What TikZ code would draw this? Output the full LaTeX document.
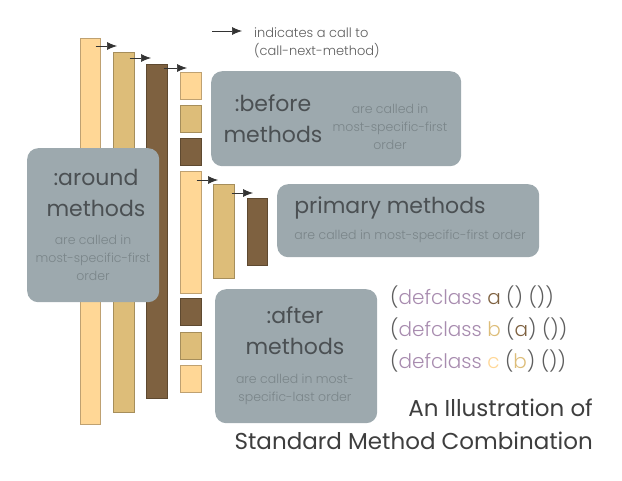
\documentclass[tikz,border=0pt]{standalone}
\usepackage{fontspec}
\setmainfont{Poppins Light}
\newfontfamily\headfont{Poppins}
\usetikzlibrary{arrows.meta}
\definecolor{clite}{HTML}{FFD796}
\definecolor{cmid}{HTML}{DDBD79}
\definecolor{cdark}{HTML}{7E6140}
\definecolor{boxgrey}{HTML}{9DA9AE}
\definecolor{headgrey}{HTML}{4B5053}
\definecolor{notegrey}{HTML}{7A8589}
\definecolor{lisppurple}{HTML}{A88CAF}
\definecolor{parengrey}{HTML}{5E5E5E}
\definecolor{titlegrey}{HTML}{3E3E3E}
\newcommand{\kw}[1]{\textcolor{lisppurple}{#1}}
\newcommand{\cls}[2]{\textcolor{#1}{#2}}

\begin{document}
\begin{tikzpicture}[x=1pt,y=-1pt,
every node/.style={inner sep=0pt},
meth/.style={draw=#1!75!black, fill=#1, line width=0.5pt, anchor=north west},
sq/.style={minimum width=21, minimum height=27},
group/.style={fill=boxgrey, rounded corners=11pt, anchor=north west},
head/.style={text=headgrey, font=\headfont\fontsize{22}{31}\selectfont, align=center},
note/.style={text=notegrey, font=\fontsize{12.5}{18}\selectfont, align=center},
callarrow/.style={-{Latex[length=10pt,width=8pt]}, line width=0.7pt, draw=black!80}]
\useasboundingbox (0,0) rectangle (622,480);

%around methods, outermost first
\node[meth=clite, minimum width=20, minimum height=386] (a1) at (80,38) {};
\node[meth=cmid, minimum width=21, minimum height=360] (a2) at (113,52) {};
\node[meth=cdark, minimum width=21, minimum height=334] (a3) at (146,64) {};

%before methods
\foreach \c/\y [count=\i] in {clite/72,cmid/105,cdark/138}
	\node[meth=\c, sq] (b\i) at (180,\y) {};

%primary methods
\node[meth=clite, minimum width=21, minimum height=122] (p1) at (180,171) {};
\node[meth=cmid, minimum width=21, minimum height=94] (p2) at (213,184) {};
\node[meth=cdark, minimum width=20, minimum height=67] (p3) at (247,198) {};

%after methods, least specific last
\foreach \c/\y [count=\i] in {cdark/298,cmid/332,clite/365}
	\node[meth=\c, sq] (f\i) at (180,\y) {};

%calls to call-next-method
\draw[callarrow] ([shift={(-5,8)}]a1.north east) -- ([shift={(4,-6)}]a2.north west);
\draw[callarrow] ([shift={(-5,6)}]a2.north east) -- ([shift={(5,-6)}]a3.north west);
\draw[callarrow] ([shift={(-4,4)}]a3.north east) -- ([shift={(7,-4)}]b1.north west);
\draw[callarrow] ([shift={(-5,9)}]p1.north east) -- ([shift={(5,-4)}]p2.north west);
\draw[callarrow] ([shift={(-3,9)}]p2.north east) -- ([shift={(6,-5)}]p3.north west);

%legend
\coordinate (k0) at (212,31);
\coordinate (k1) at (242,31);
\draw[callarrow] (k0) -- (k1);
\node[note, text=parengrey, align=left, anchor=west, font=\fontsize{13}{18}\selectfont] (key) at (254,43) {indicates a call to\\(call-next-method)};

%labels
\node[group, minimum width=132, minimum height=154] (around) at (27,148) {};
\node[head] (aroundhead) at (96,193) {:around\\methods};
\node[note] (aroundnote) at (93,258) {are called in\\most-specific-first\\order};

\node[group, minimum width=250, minimum height=95] (before) at (211,71) {};
\node[head] (beforehead) at (273,119) {:before\\methods};
\node[note] (beforenote) at (390,127) {are called in\\most-specific-first\\order};

\node[group, minimum width=262, minimum height=73] (primary) at (277,184) {};
\node[head] (primaryhead) at (390,208) {primary methods};
\node[note] (primarynote) at (410,236) {are called in most-specific-first order};

\node[group, minimum width=162, minimum height=134] (after) at (215,289) {};
\node[head] (afterhead) at (295,331) {:after\\methods};
\node[note] (afternote) at (295,389) {are called in most-\\specific-last order};

%class definitions
\node[anchor=west, text=parengrey, align=left, font=\fontsize{20}{32}\selectfont] (classes) at (390,329)
	{(\kw{defclass} \cls{cdark}{a} () ())\\
	 (\kw{defclass} \cls{cmid}{b} (\cls{cdark}{a}) ())\\
	 (\kw{defclass} \cls{clite}{c} (\cls{cmid}{b}) ())};

\node[anchor=east, text=titlegrey, align=right, font=\headfont\fontsize{23}{33}\selectfont] (title) at (593,424)
	{An Illustration of\\Standard Method Combination};
\end{tikzpicture}
\end{document}
